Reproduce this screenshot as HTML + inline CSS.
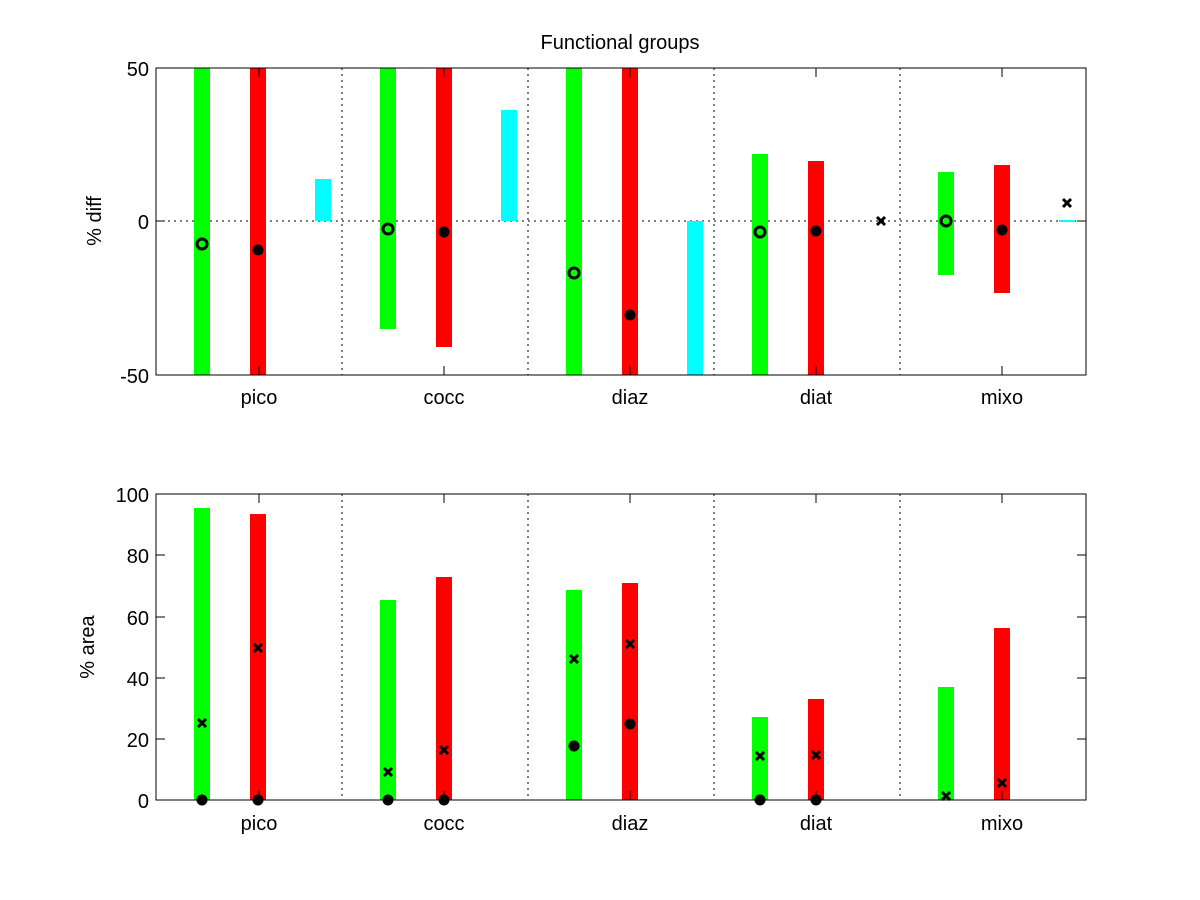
<!DOCTYPE html><html><head><style>body{margin:0;background:#fff}svg{display:block}text{font-family:"Liberation Sans",sans-serif;fill:#000}</style></head><body>
<svg width="1200" height="900" xmlns="http://www.w3.org/2000/svg">
<rect width="1200" height="900" fill="#fff"/>
<text x="620" y="49" font-size="20" text-anchor="middle">Functional groups</text>
<g id="top">
<line x1="156" y1="221" x2="1086" y2="221" stroke="#000" stroke-dasharray="2,4"/>
<g stroke="#000" stroke-dasharray="2,4"><line x1="342" y1="68" x2="342" y2="375"/><line x1="528" y1="68" x2="528" y2="375"/><line x1="714" y1="68" x2="714" y2="375"/><line x1="900" y1="68" x2="900" y2="375"/></g>
<g fill="#0f0"><rect x="194" y="68" width="16" height="307"/><rect x="380" y="68" width="16" height="261"/><rect x="566" y="68" width="16" height="307"/><rect x="752" y="154" width="16" height="221"/><rect x="938" y="172" width="16" height="103"/></g>
<g fill="#f00"><rect x="250" y="68" width="16" height="307"/><rect x="436" y="68" width="16" height="279"/><rect x="622" y="68" width="16" height="307"/><rect x="808" y="161" width="16" height="214"/><rect x="994" y="165" width="16" height="128"/></g>
<g fill="#0ff"><rect x="315" y="179" width="16" height="42"/><rect x="501" y="110" width="16" height="111"/><rect x="687" y="221" width="16" height="154"/><rect x="1059" y="220" width="16" height="2"/></g>
<g fill="none" stroke="#000" stroke-width="3"><circle cx="202" cy="244" r="5"/><circle cx="388" cy="229" r="5"/><circle cx="574" cy="273" r="5"/><circle cx="760" cy="232" r="5"/><circle cx="946" cy="221" r="5"/></g>
<g fill="#000"><circle cx="258" cy="250" r="5.5"/><circle cx="444" cy="232" r="5.5"/><circle cx="630" cy="315" r="5.5"/><circle cx="816" cy="231" r="5.5"/><circle cx="1002" cy="230" r="5.5"/></g>
<g stroke="#000" stroke-width="3"><path d="M877 217l8 8M885 217l-8 8"/><path d="M1063 199l8 8M1071 199l-8 8"/></g>
<rect x="156" y="68" width="930" height="307" fill="none" stroke="#000"/>
<g stroke="#000"><path d="M156 221h9M1086 221h-9M259 68v9M444 68v9M630 68v9M816 68v9M1002 68v9M259 375v-9M444 375v-9M630 375v-9M816 375v-9M1002 375v-9"/></g>
<g font-size="20" text-anchor="end"><text x="149" y="76">50</text><text x="149" y="229">0</text><text x="149" y="383">-50</text></g>
<g font-size="20" text-anchor="middle"><text x="259" y="404">pico</text><text x="444" y="404">cocc</text><text x="630" y="404">diaz</text><text x="816" y="404">diat</text><text x="1002" y="404">mixo</text></g>
<text font-size="20" text-anchor="middle" transform="translate(101,221) rotate(-90)">% diff</text>
</g>
<g id="bot">
<g stroke="#000" stroke-dasharray="2,4"><line x1="342" y1="494" x2="342" y2="800"/><line x1="528" y1="494" x2="528" y2="800"/><line x1="714" y1="494" x2="714" y2="800"/><line x1="900" y1="494" x2="900" y2="800"/></g>
<g fill="#0f0"><rect x="194" y="508" width="16" height="292"/><rect x="380" y="600" width="16" height="200"/><rect x="566" y="590" width="16" height="210"/><rect x="752" y="717" width="16" height="83"/><rect x="938" y="687" width="16" height="113"/></g>
<g fill="#f00"><rect x="250" y="514" width="16" height="286"/><rect x="436" y="577" width="16" height="223"/><rect x="622" y="583" width="16" height="217"/><rect x="808" y="699" width="16" height="101"/><rect x="994" y="628" width="16" height="172"/></g>
<g fill="#000"><circle cx="202" cy="800" r="5.5"/><circle cx="258" cy="800" r="5.5"/><circle cx="388" cy="800" r="5.5"/><circle cx="444" cy="800" r="5.5"/><circle cx="574" cy="746" r="5.5"/><circle cx="630" cy="724" r="5.5"/><circle cx="760" cy="800" r="5.5"/><circle cx="816" cy="800" r="5.5"/></g>
<g stroke="#000" stroke-width="3"><path d="M198 719l8 8M206 719l-8 8M254 644l8 8M262 644l-8 8M384 768l8 8M392 768l-8 8M440 746l8 8M448 746l-8 8M570 655l8 8M578 655l-8 8M626 640l8 8M634 640l-8 8M756 752l8 8M764 752l-8 8M812 751l8 8M820 751l-8 8M942 792l8 8M950 792l-8 8M998 779l8 8M1006 779l-8 8"/></g>
<rect x="156" y="494" width="930" height="306" fill="none" stroke="#000"/>
<g stroke="#000"><path d="M156 555h9M156 617h9M156 678h9M156 739h9M1086 555h-9M1086 617h-9M1086 678h-9M1086 739h-9M259 494v9M444 494v9M630 494v9M816 494v9M1002 494v9M259 800v-9M444 800v-9M630 800v-9M816 800v-9M1002 800v-9"/></g>
<g font-size="20" text-anchor="end"><text x="149" y="502">100</text><text x="149" y="563">80</text><text x="149" y="625">60</text><text x="149" y="686">40</text><text x="149" y="747">20</text><text x="149" y="808">0</text></g>
<g font-size="20" text-anchor="middle"><text x="259" y="830">pico</text><text x="444" y="830">cocc</text><text x="630" y="830">diaz</text><text x="816" y="830">diat</text><text x="1002" y="830">mixo</text></g>
<text font-size="20" text-anchor="middle" transform="translate(94,647) rotate(-90)">% area</text>
</g>
</svg></body></html>
